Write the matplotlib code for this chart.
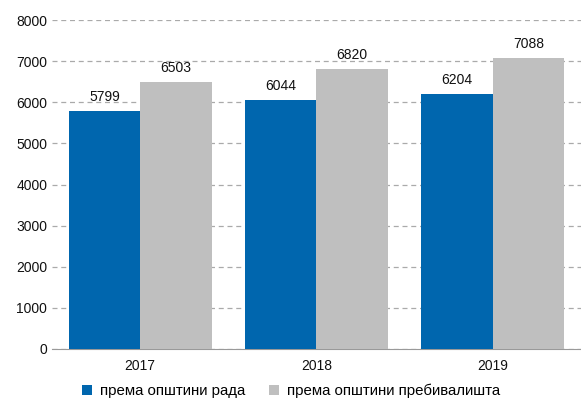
import matplotlib
import matplotlib.pyplot as plt
import numpy as np

matplotlib.use('Agg')
plt.rcParams['font.family'] = ['Liberation Sans', 'DejaVu Sans']

years = ['2017', '2018', '2019']
work = [5799, 6044, 6204]
residence = [6503, 6820, 7088]
labels = ['према општини рада', 'према општини пребивалишта']
colors = ['#0066AE', '#BFBFBF']

fig = plt.figure(figsize=(5.81, 4.00), dpi=100)
ax = fig.add_axes([0.0895, 0.1275, 0.9105, 0.8225])

x = np.arange(len(years))
width = 0.405
b1 = ax.bar(x - width / 2, work, width, color=colors[0], label=labels[0], zorder=3)
b2 = ax.bar(x + width / 2, residence, width, color=colors[1], label=labels[1], zorder=3)
for bars in (b1, b2):
    ax.bar_label(bars, padding=5, fontsize=10, color='#111111')

ax.set_xlim(-0.5, 2.5)
ax.set_ylim(0, 8000)
ax.set_yticks(np.arange(0, 8001, 1000))
ax.set_xticks(x, years)
ax.yaxis.grid(True, linestyle=(0, (4, 3)), color='#AAAAAA', linewidth=0.9, zorder=0)
ax.tick_params(axis='both', length=0, labelsize=10, colors='#111111')
ax.tick_params(axis='x', pad=7)
for s in ['top', 'right', 'left']:
    ax.spines[s].set_visible(False)
ax.spines['bottom'].set_color('#999999')

fig.legend(loc='lower left', bbox_to_anchor=(0.118, -0.03), ncol=2, frameon=False,
           fontsize=10.8, handlelength=0.65, handleheight=0.65, columnspacing=1.6,
           handletextpad=0.55)

fig.savefig('out.png', dpi=100)
